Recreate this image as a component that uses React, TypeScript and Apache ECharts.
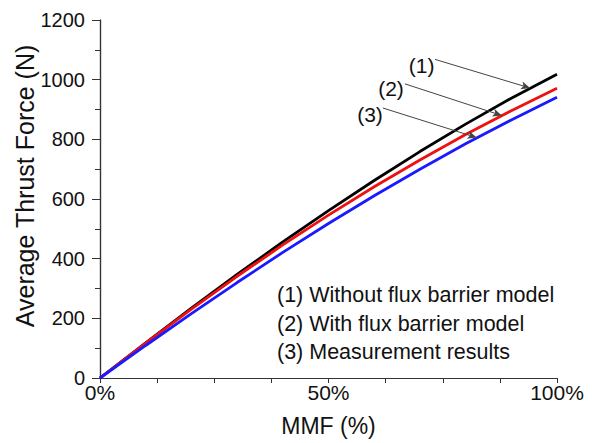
import React, { useEffect, useRef } from "react";
import * as echarts from "echarts";

const mmf = [0, 10, 20, 30, 40, 50, 60, 70, 80, 90, 100];
const withoutBarrier = [0, 118, 234, 347, 456, 561, 662, 759, 851, 938, 1018];
const withBarrier = [0, 117, 231, 341, 446, 546, 641, 731, 816, 896, 971];
const measurement = [0, 109, 216, 320, 421, 518, 611, 700, 785, 865, 941];
const legendTexts = [
  "(1) Without flux barrier model",
  "(2) With flux barrier model",
  "(3) Measurement results",
];
const markerTexts = ["(1)", "(2)", "(3)"];
// arrows: [startX, startY, endX, endY] in data units
const arrows = [
  [73.3, 1068, 94.1, 972],
  [66.7, 986, 87.9, 880],
  [61.9, 905, 82.4, 806],
];

const FONT = "'Liberation Sans', Arial, Helvetica, sans-serif";

export default function App() {
  const ref = useRef<HTMLDivElement>(null);
  useEffect(() => {
    if (!ref.current) return;
    const chart = echarts.init(ref.current, undefined, { renderer: "svg" });
    const pairs = (ys: number[]) => mmf.map((x, i) => [x, ys[i]]);
    const axisLine = { show: true, lineStyle: { color: "#333", width: 1.2 } };
    chart.setOption({
      animation: false,
      backgroundColor: "#fff",
      grid: { left: 100, right: 35, top: 20, bottom: 65, containLabel: false },
      xAxis: [
        {
          type: "value",
          min: 0,
          max: 100,
          interval: 12.5,
          position: "bottom",
          name: "MMF (%)",
          nameLocation: "middle",
          nameGap: 36,
          nameTextStyle: { fontFamily: FONT, fontSize: 23, color: "#111" },
          axisLine,
          axisTick: { show: true, inside: false, length: 5, lineStyle: { color: "#333" } },
          axisLabel: {
            margin: 4,
            fontFamily: FONT,
            fontSize: 21,
            color: "#111",
            formatter: (v: number) => (v % 50 === 0 ? v + "%" : ""),
          },
          splitLine: { show: false },
        },
        {
          type: "value",
          min: 0,
          max: 100,
          interval: 12.5,
          position: "top",
          axisLine,
          axisTick: { show: true, inside: true, length: 4, lineStyle: { color: "#333" } },
          axisLabel: { show: false },
          splitLine: { show: false },
        },
      ],
      yAxis: [
        {
          type: "value",
          min: 0,
          max: 1200,
          interval: 200,
          position: "left",
          axisLine,
          axisTick: { show: true, inside: false, length: 8, lineStyle: { color: "#333" } },
          minorTick: { show: true, splitNumber: 2, length: 4, lineStyle: { color: "#333" } },
          axisLabel: {
            margin: 15,
            fontFamily: FONT,
            fontSize: 20,
            color: "#111",
            formatter: (v: number) => String(v),
          },
          splitLine: { show: false },
          minorSplitLine: { show: false },
        },
        {
          type: "value",
          min: 0,
          max: 1200,
          interval: 100,
          position: "right",
          axisLine,
          axisTick: { show: true, inside: true, length: 5, lineStyle: { color: "#333" } },
          axisLabel: { show: false },
          splitLine: { show: false },
        },
      ],
      series: [
        {
          name: "(1)",
          type: "line",
          data: pairs(withoutBarrier),
          showSymbol: false,
          lineStyle: { color: "#000", width: 2.8 },
          itemStyle: { color: "#000" },
          markLine: {
            silent: true,
            symbol: ["none", "arrow"],
            symbolSize: [6, 9],
            label: { show: false },
            lineStyle: { color: "#444", width: 1, type: "solid" },
            data: arrows.map((a) => [{ coord: [a[0], a[1]] }, { coord: [a[2], a[3]] }]),
          },
        },
        {
          name: "(2)",
          type: "line",
          data: pairs(withBarrier),
          showSymbol: false,
          lineStyle: { color: "#f01010", width: 2.8 },
          itemStyle: { color: "#f01010" },
        },
        {
          name: "(3)",
          type: "line",
          data: pairs(measurement),
          showSymbol: false,
          lineStyle: { color: "#1a1aff", width: 2.8 },
          itemStyle: { color: "#1a1aff" },
        },
      ],
      graphic: [
        {
          type: "text",
          x: 25,
          y: 186,
          rotation: Math.PI / 2,
          style: {
            text: "Average Thrust Force (N)",
            fontFamily: FONT,
            fontSize: 25,
            fill: "#111",
            align: "center",
            verticalAlign: "middle",
          },
        },
        ...legendTexts.map((t, i) => ({
          type: "text",
          x: 277,
          y: 295 + i * 28.5,
          style: {
            text: t,
            fontFamily: FONT,
            fontSize: 21.5,
            fill: "#111",
            verticalAlign: "middle",
          },
        })),
        ...markerTexts.map((t, i) => ({
          type: "text",
          x: [421.7, 391, 370][i],
          y: [65, 88.3, 114][i],
          style: {
            text: t,
            fontFamily: FONT,
            fontSize: 21,
            fill: "#111",
            align: "center",
            verticalAlign: "middle",
          },
        })),
      ],
    });
    return () => chart.dispose();
  }, []);
  return (
    <div
      ref={ref}
      style={{ position: "absolute", left: 0, top: 0, width: 592, height: 443 }}
    />
  );
}
